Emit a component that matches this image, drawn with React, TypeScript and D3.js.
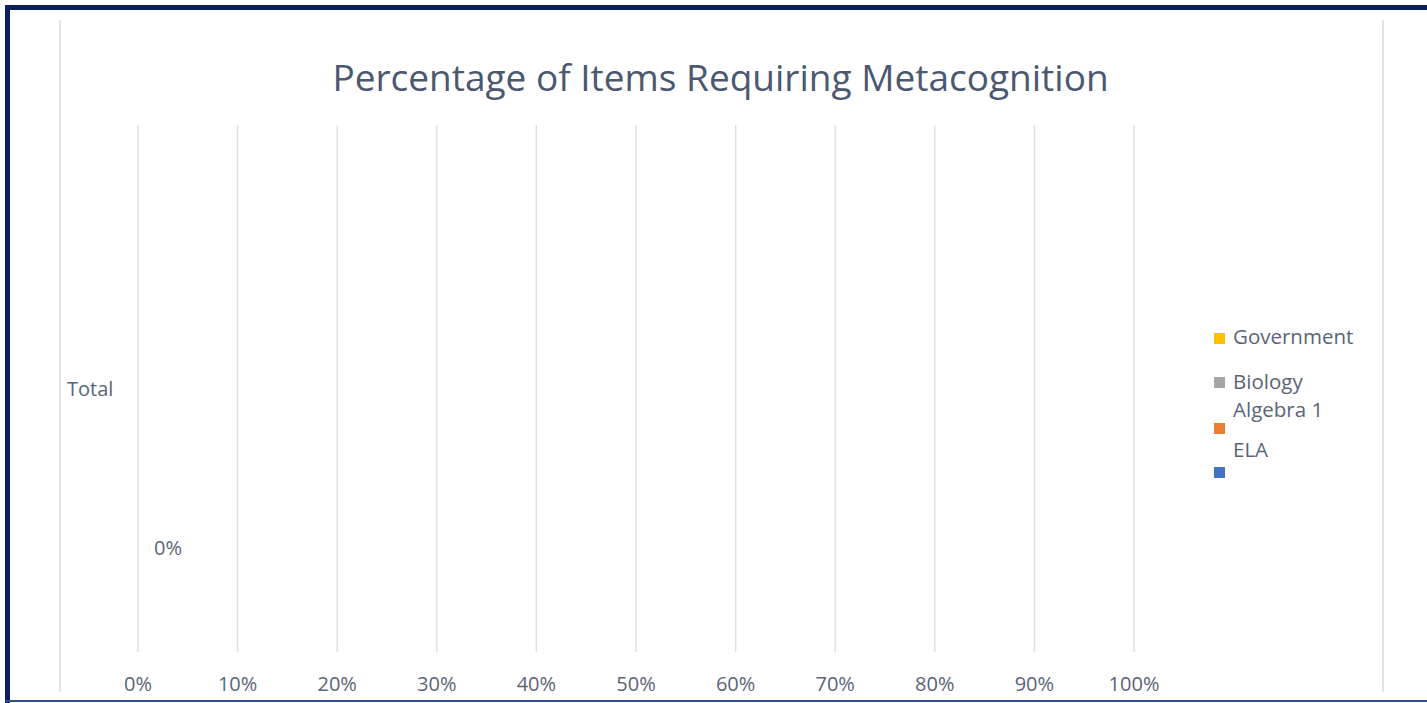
import React from "react";
import * as d3 from "d3";

const title = "Percentage of Items Requiring Metacognition";
const categories = ["Total"];
const seriesNames = ["ELA", "Algebra 1", "Biology", "Government"];
const seriesColors = ["#4472c4", "#ed7d31", "#a5a5a5", "#ffc000"];
const ela = [0];
const algebra1 = [0];
const biology = [0];
const government = [0];
const seriesValues = [ela, algebra1, biology, government];
const labelledSeries = ["ELA"];
const xTicks = [0, 0.1, 0.2, 0.3, 0.4, 0.5, 0.6, 0.7, 0.8, 0.9, 1.0];

const W = 1427;
const H = 703;
const FONT = "'Open Sans', 'DejaVu Sans', sans-serif";
const TEXT = "#5b6477";
const FS = 20;

export default function App() {
  const plot = { left: 138, right: 1134, top: 125, bottom: 652 };
  const x = d3.scaleLinear().domain([0, 1]).range([plot.left, plot.right]);
  const yCat = d3.scaleBand<string>().domain(categories).range([plot.top, plot.bottom]).padding(0);
  const fmt = d3.format(".0%");

  // legend layout (reproduces wrapped legend entries)
  const legendOrder = [...seriesNames].reverse();
  const legendText = [337, 382, 410, 450];
  const legendSwatch = [338, 382, 428, 472];

  return (
    <svg width={W} height={H} style={{ position: "absolute", left: 0, top: 0, background: "#fff" }}>
      <rect x={0} y={0} width={W} height={H} fill="#fff" />
      {/* outer plot frame lines */}
      <line x1={60} x2={60} y1={20} y2={692} stroke="#e1e4ec" strokeWidth={2} />
      <line x1={1383} x2={1383} y1={20} y2={692} stroke="#e1e4ec" strokeWidth={2} />
      {/* title */}
      <text x={720.5} y={91} textAnchor="middle" fontFamily={FONT} fontSize={37} fill="#4b5870">
        {title}
      </text>
      {/* gridlines */}
      {xTicks.map((t) => (
        <line key={"g" + t} x1={x(t)} x2={x(t)} y1={plot.top} y2={plot.bottom} stroke="#dde1ea" strokeWidth={1.5} />
      ))}
      {/* x tick labels */}
      {xTicks.map((t) => (
        <text key={"t" + t} x={x(t)} y={691} textAnchor="middle" fontFamily={FONT} fontSize={FS} fill={TEXT}>
          {fmt(t)}
        </text>
      ))}
      {/* category labels */}
      {categories.map((c) => (
        <text key={c} x={67} y={(yCat(c) ?? 0) + yCat.bandwidth() / 2 + 7} fontFamily={FONT} fontSize={FS} fill={TEXT}>
          {c}
        </text>
      ))}
      {/* bars */}
      {categories.map((c, ci) => {
        const y0 = yCat(c) ?? 0;
        const ySer = d3
          .scaleBand<string>()
          .domain([...seriesNames].reverse())
          .range([y0 + 51, y0 + yCat.bandwidth() - 51])
          .padding(0);
        return seriesNames.map((s, si) => {
          const v = seriesValues[si][ci];
          const yy = ySer(s) ?? 0;
          return (
            <g key={c + s}>
              <rect x={x(0)} y={yy + 10} width={x(v) - x(0)} height={ySer.bandwidth() - 20} fill={seriesColors[si]} />
              {labelledSeries.includes(s) && (
                <text x={x(v) + 30} y={yy + ySer.bandwidth() / 2 + 7} textAnchor="middle" fontFamily={FONT} fontSize={FS} fill={TEXT}>
                  {fmt(v)}
                </text>
              )}
            </g>
          );
        });
      })}
      {/* legend */}
      {legendOrder.map((s, i) => {
        const si = seriesNames.indexOf(s);
        return (
          <g key={"l" + s}>
            <rect x={1214} y={legendSwatch[i] - 5} width={11} height={11} fill={seriesColors[si]} />
            <text x={1233} y={legendText[i] + 7} fontFamily={FONT} fontSize={FS + 0.5} fill={TEXT}>
              {s}
            </text>
          </g>
        );
      })}
      {/* outer border */}
      <line x1={5} x2={W} y1={7.5} y2={7.5} stroke="#0b1f5c" strokeWidth={5} />
      <line x1={7.5} x2={7.5} y1={5} y2={H} stroke="#0b1f5c" strokeWidth={5} />
      <line x1={5} x2={W} y1={701} y2={701} stroke="#2f4f86" strokeWidth={2} />
    </svg>
  );
}
